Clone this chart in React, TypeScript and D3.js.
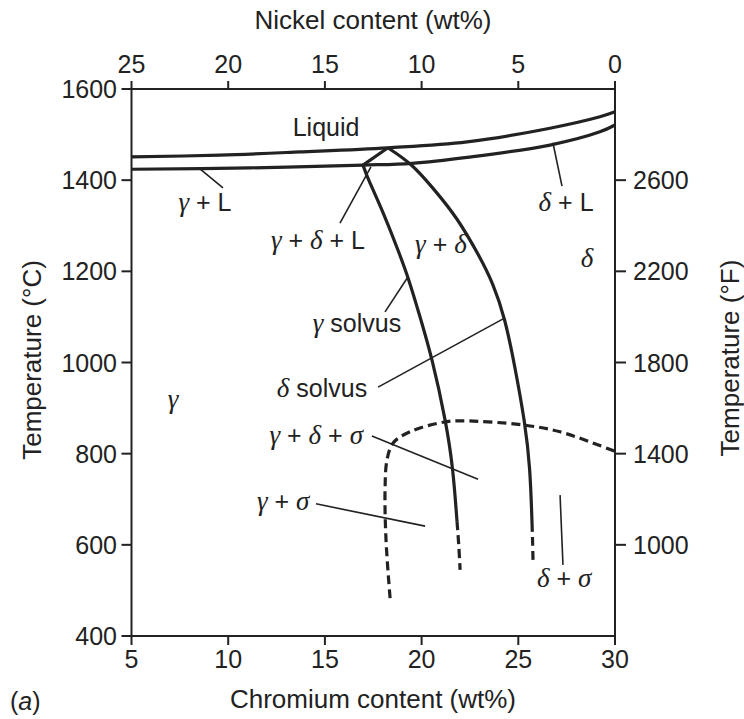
import React from "react";
import * as d3 from "d3";

// ---- axis ticks ----
const crTicks = [5, 10, 15, 20, 25, 30];
const niTicks = [25, 20, 15, 10, 5, 0];
const tcTicks = [400, 600, 800, 1000, 1200, 1400, 1600];
const tfTicks = [1000, 1400, 1800, 2200, 2600];

// ---- phase boundaries (Cr wt%, Temperature °C) ----
const liquidusCr = [5, 9.58, 13.71, 18.26, 22.35, 26.64, 29.22, 30];
const liquidusT = [1451, 1455, 1462, 1471, 1484, 1514, 1539, 1550];

const solidusCr = [5, 11.13, 16.97, 19.5, 22.35, 26.64, 29.22, 30];
const solidusT = [1424, 1427, 1433, 1437, 1450, 1477, 1506, 1521];

const wedgeCr = [18.26, 16.97];
const wedgeT = [1471, 1433];

const gammaSolvusCr = [16.97, 17.22, 17.9, 18.78, 19.3, 19.92, 20.54, 21.26, 21.62, 21.83];
const gammaSolvusT = [1433, 1403, 1341, 1247, 1188, 1100, 1010, 870, 771, 652];
const gammaSolvusDashCr = [21.83, 21.92, 21.99];
const gammaSolvusDashT = [652, 600, 545];

const deltaSolvusCr = [18.26, 19.5, 20.54, 21.83, 23.02, 23.69, 24.31, 24.83, 25.35, 25.61, 25.71];
const deltaSolvusT = [1471, 1436, 1385, 1319, 1231, 1174, 1098, 990, 867, 771, 648];
const deltaSolvusDashCr = [25.71, 25.74, 25.76];
const deltaSolvusDashT = [648, 605, 567];

const sigmaCr = [18.37, 18.16, 18.11, 18.21, 18.52, 19.4, 21.11, 22.14, 25.24, 27.16, 30];
const sigmaT = [483, 611, 720, 786, 823, 848, 869, 872, 863, 848, 805];

// ---- region labels ----
type Part = { t: string; g?: boolean };
const labelNames: Part[][] = [
  [{ t: "Liquid" }],
  [{ t: "γ", g: true }, { t: " + L" }],
  [{ t: "γ", g: true }, { t: " + " }, { t: "δ", g: true }, { t: " + L" }],
  [{ t: "δ", g: true }, { t: " + L" }],
  [{ t: "γ", g: true }, { t: " + " }, { t: "δ", g: true }],
  [{ t: "δ", g: true }],
  [{ t: "γ", g: true }, { t: " solvus" }],
  [{ t: "δ", g: true }, { t: " solvus" }],
  [{ t: "γ", g: true }],
  [{ t: "γ", g: true }, { t: " + " }, { t: "δ", g: true }, { t: " + " }, { t: "σ", g: true }],
  [{ t: "γ", g: true }, { t: " + " }, { t: "σ", g: true }],
  [{ t: "δ", g: true }, { t: " + " }, { t: "σ", g: true }],
];
const labelCr = [15.06, 8.8, 14.64, 27.47, 21.0, 28.56, 16.66, 14.85, 7.15, 14.55, 12.84, 27.37];
const labelT = [1497, 1332, 1249, 1332, 1240, 1210, 1067, 924, 900, 821, 676, 507];

// ---- leader lines ----
const leaderCr1 = [9.73, 15.78, 27.26, 18.11, 17.75, 17.43, 14.54, 27.16];
const leaderT1 = [1383, 1306, 1387, 1111, 946, 839, 690, 709];
const leaderCr2 = [8.54, 17.38, 26.79, 19.3, 24.31, 22.92, 20.18, 27.31];
const leaderT2 = [1425, 1429, 1482, 1188, 1098, 744, 641, 556];

const W = 744;
const H = 719;
const SANS = "'Liberation Sans', Arial, Helvetica, sans-serif";
const SERIF = "'Liberation Serif', 'Times New Roman', serif";
const INK = "#222";

export default function App() {
  const x = d3.scaleLinear().domain([5, 30]).range([131.5, 615]);
  const xNi = d3.scaleLinear().domain([25, 0]).range([131.5, 615]);
  const y = d3.scaleLinear().domain([400, 1600]).range([636, 89]);
  const yF = d3.scaleLinear().domain([600, 3000]).range([636, 89]);

  const smooth = d3
    .line<[number, number]>()
    .x((d) => x(d[0]))
    .y((d) => y(d[1]))
    .curve(d3.curveCatmullRom.alpha(0.5));
  const basis = d3
    .line<[number, number]>()
    .x((d) => x(d[0]))
    .y((d) => y(d[1]))
    .curve(d3.curveBasis);
  const straight = d3
    .line<[number, number]>()
    .x((d) => x(d[0]))
    .y((d) => y(d[1]));

  const zip = (a: number[], b: number[]) => a.map((v, i) => [v, b[i]] as [number, number]);

  const [x0, x1] = x.range();
  const [y0, y1] = y.range();

  const renderLabel = (parts: Part[], i: number) => (
    <text
      key={i}
      x={x(labelCr[i])}
      y={y(labelT[i])}
      textAnchor="middle"
      fontSize={25}
      fontFamily={SANS}
      fill={INK}
    >
      {parts.map((p, j) =>
        p.g ? (
          <tspan key={j} fontFamily={SERIF} fontStyle="italic" fontSize={27}>
            {p.t}
          </tspan>
        ) : (
          <tspan key={j}>{p.t.replace(/ /g, "\u00A0")}</tspan>
        )
      )}
    </text>
  );

  return (
    <svg
      width={W}
      height={H}
      style={{ position: "absolute", left: 0, top: 0, background: "#fff" }}
    >
      <rect x={0} y={0} width={W} height={H} fill="#fff" />

      {/* frame */}
      <rect
        x={x0}
        y={y1}
        width={x1 - x0}
        height={y0 - y1}
        fill="none"
        stroke={INK}
        strokeWidth={2}
      />

      {/* bottom axis */}
      {crTicks.map((t) => (
        <g key={"b" + t}>
          <line x1={x(t)} x2={x(t)} y1={y0} y2={y0 + 9} stroke={INK} strokeWidth={2} />
          <text x={x(t)} y={668} textAnchor="middle" fontSize={25} fontFamily={SANS} fill={INK}>
            {t}
          </text>
        </g>
      ))}
      {/* top axis */}
      {niTicks.map((t) => (
        <g key={"t" + t}>
          <line x1={xNi(t)} x2={xNi(t)} y1={y1} y2={y1 - 8} stroke={INK} strokeWidth={2} />
          <text x={xNi(t)} y={73} textAnchor="middle" fontSize={25} fontFamily={SANS} fill={INK}>
            {t}
          </text>
        </g>
      ))}
      {/* left axis */}
      {tcTicks.map((t) => (
        <g key={"l" + t}>
          <line x1={x0} x2={x0 - 10} y1={y(t)} y2={y(t)} stroke={INK} strokeWidth={2} />
          <text
            x={117}
            y={y(t) + 9}
            textAnchor="end"
            fontSize={25}
            fontFamily={SANS}
            fill={INK}
          >
            {t}
          </text>
        </g>
      ))}
      {/* right axis */}
      {tfTicks.map((t) => (
        <g key={"r" + t}>
          <line x1={x1} x2={x1 + 11} y1={yF(t)} y2={yF(t)} stroke={INK} strokeWidth={2} />
          <text
            x={633}
            y={yF(t) + 9}
            textAnchor="start"
            fontSize={25}
            fontFamily={SANS}
            fill={INK}
          >
            {t}
          </text>
        </g>
      ))}

      {/* axis titles */}
      <text x={373} y={29} textAnchor="middle" fontSize={26} fontFamily={SANS} fill={INK}>
        Nickel content (wt%)
      </text>
      <text x={373} y={708} textAnchor="middle" fontSize={26} fontFamily={SANS} fill={INK}>
        Chromium content (wt%)
      </text>
      <text
        transform={`translate(41,360) rotate(-90)`}
        textAnchor="middle"
        fontSize={26}
        fontFamily={SANS}
        fill={INK}
      >
        Temperature (°C)
      </text>
      <text
        transform={`translate(739,358) rotate(-90)`}
        textAnchor="middle"
        fontSize={26}
        fontFamily={SANS}
        fill={INK}
      >
        Temperature (°F)
      </text>
      <text x={10} y={710} fontSize={25} fontFamily={SANS} fill={INK}>
        (<tspan fontStyle="italic">a</tspan>)
      </text>

      {/* phase boundaries */}
      <g fill="none" stroke={INK} strokeWidth={3.2} strokeLinecap="butt">
        <path d={smooth(zip(liquidusCr, liquidusT)) || ""} />
        <path d={smooth(zip(solidusCr, solidusT)) || ""} />
        <path d={straight(zip(wedgeCr, wedgeT)) || ""} />
        <path d={basis(zip(gammaSolvusCr, gammaSolvusT)) || ""} />
        <path d={basis(zip(deltaSolvusCr, deltaSolvusT)) || ""} />
        <g strokeDasharray="9 5">
          <path d={smooth(zip(gammaSolvusDashCr, gammaSolvusDashT)) || ""} />
          <path d={smooth(zip(deltaSolvusDashCr, deltaSolvusDashT)) || ""} />
          <path d={smooth(zip(sigmaCr, sigmaT)) || ""} />
        </g>
      </g>

      {/* leader lines */}
      <g stroke={INK} strokeWidth={1.6}>
        {leaderCr1.map((c, i) => (
          <line
            key={"ld" + i}
            x1={x(c)}
            y1={y(leaderT1[i])}
            x2={x(leaderCr2[i])}
            y2={y(leaderT2[i])}
          />
        ))}
      </g>

      {/* region labels */}
      {labelNames.map((parts, i) => renderLabel(parts, i))}
    </svg>
  );
}
